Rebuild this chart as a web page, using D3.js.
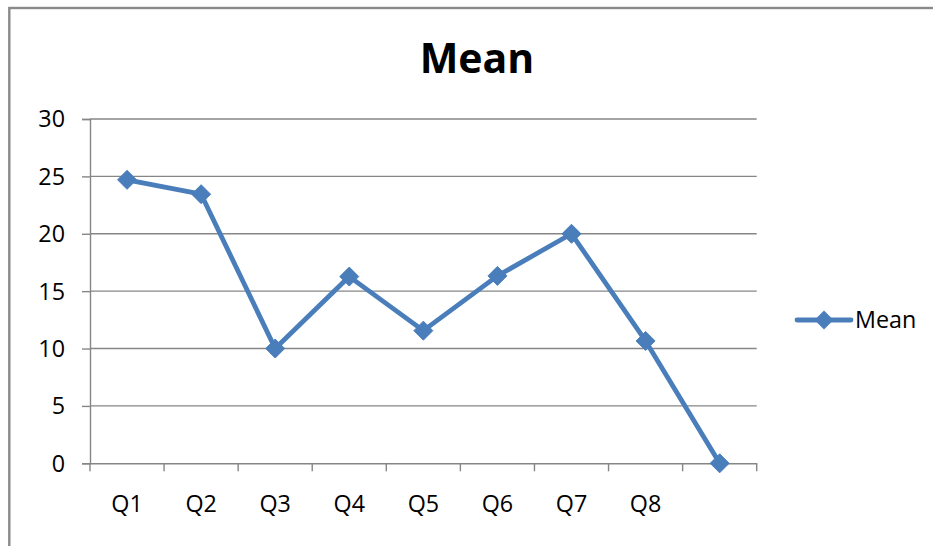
<!DOCTYPE html>
<html><head><meta charset="utf-8">
<script src="https://cdn.jsdelivr.net/npm/d3@7"></script>
<style>html,body{margin:0;padding:0;background:#fff;overflow:hidden}</style>
</head><body>
<svg id="c" width="933" height="546"></svg>
<script>
const categories = ["Q1","Q2","Q3","Q4","Q5","Q6","Q7","Q8",""];
const meanValues = [24.7, 23.45, 10.0, 16.27, 11.56, 16.33, 20.0, 10.66, 0];
const yTicks = [0,5,10,15,20,25,30];
const seriesName = "Mean";
const titleText = "Mean";

(function(){
const svg = d3.select("#c");
const FONT = "'Open Sans', sans-serif";
const blue = "#4A7EBB";
const grid = "#868686";

// chart frame
svg.append("rect").attr("x",9.3).attr("y",8).attr("width",960).attr("height",600)
  .attr("fill","none").attr("stroke","#8a8a8a").attr("stroke-width",2.4);

const pL = 90, pR = 756.7, pT = 119, pB = 463.3;
const x = d3.scaleBand().domain(categories.map((d,i)=>i)).range([pL,pR]).paddingInner(0).paddingOuter(0);
const y = d3.scaleLinear().domain([0,30]).range([pB,pT]);

// gridlines
svg.append("g").selectAll("line").data(yTicks.filter(t=>t>0)).join("line")
  .attr("x1",pL).attr("x2",pR).attr("y1",d=>y(d)).attr("y2",d=>y(d))
  .attr("stroke",grid).attr("stroke-width",1.4);

// y axis
const yAxis = d3.axisLeft(y).tickValues(yTicks).tickSize(8).tickPadding(17).tickFormat(d3.format("d"));
const gy = svg.append("g").attr("transform",`translate(${pL},0)`).call(yAxis);
gy.select(".domain").attr("stroke",grid).attr("stroke-width",1.4);
gy.selectAll(".tick line").attr("stroke",grid).attr("stroke-width",1.4);
gy.selectAll("text").attr("font-family",FONT).attr("font-size",23.3).attr("fill","#000").attr("dy","0.34em");

// x axis
const xAxis = d3.axisBottom(x).tickSize(0).tickFormat(i=>categories[i]);
const gx = svg.append("g").attr("transform",`translate(0,${pB})`).call(xAxis);
gx.select(".domain").attr("stroke",grid).attr("stroke-width",1.4);
gx.selectAll(".tick text").attr("font-family",FONT).attr("font-size",23.3).attr("fill","#000")
  .attr("y",0).attr("dy",0).attr("transform","translate(0,49)");
// category boundary ticks
const bounds = categories.map((d,i)=>x(i)).concat([x(categories.length-1)+x.bandwidth()]);
svg.append("g").selectAll("line").data(bounds).join("line")
  .attr("x1",d=>d).attr("x2",d=>d).attr("y1",pB).attr("y2",pB+8)
  .attr("stroke",grid).attr("stroke-width",1.4);

// line
const cx = i => x(i) + x.bandwidth()/2;
const line = d3.line().x((d,i)=>cx(i)).y(d=>y(d));
svg.append("path").datum(meanValues).attr("d",line).attr("fill","none")
  .attr("stroke",blue).attr("stroke-width",4.8).attr("stroke-linejoin","round").attr("stroke-linecap","round");

const diamond = (px,py,r) => `M${px},${py-r}L${px+r},${py}L${px},${py+r}L${px-r},${py}Z`;
svg.append("g").selectAll("path").data(meanValues).join("path")
  .attr("d",(d,i)=>diamond(cx(i),y(d),9.5)).attr("fill",blue).attr("stroke",blue).attr("stroke-width",1);

// title
svg.append("text").attr("x",477).attr("y",73).attr("text-anchor","middle")
  .attr("font-family",FONT).attr("font-weight","bold").attr("font-size",41).attr("fill","#000").text(titleText);

// legend
const lg = svg.append("g");
lg.append("line").attr("x1",797).attr("x2",851).attr("y1",320).attr("y2",320)
  .attr("stroke",blue).attr("stroke-width",4.8).attr("stroke-linecap","round");
lg.append("path").attr("d",diamond(824,320,9.5)).attr("fill",blue);
lg.append("text").attr("x",855).attr("y",328.3).attr("font-family",FONT).attr("font-size",23.3)
  .attr("fill","#000").text(seriesName);
})();
</script>
</body></html>
